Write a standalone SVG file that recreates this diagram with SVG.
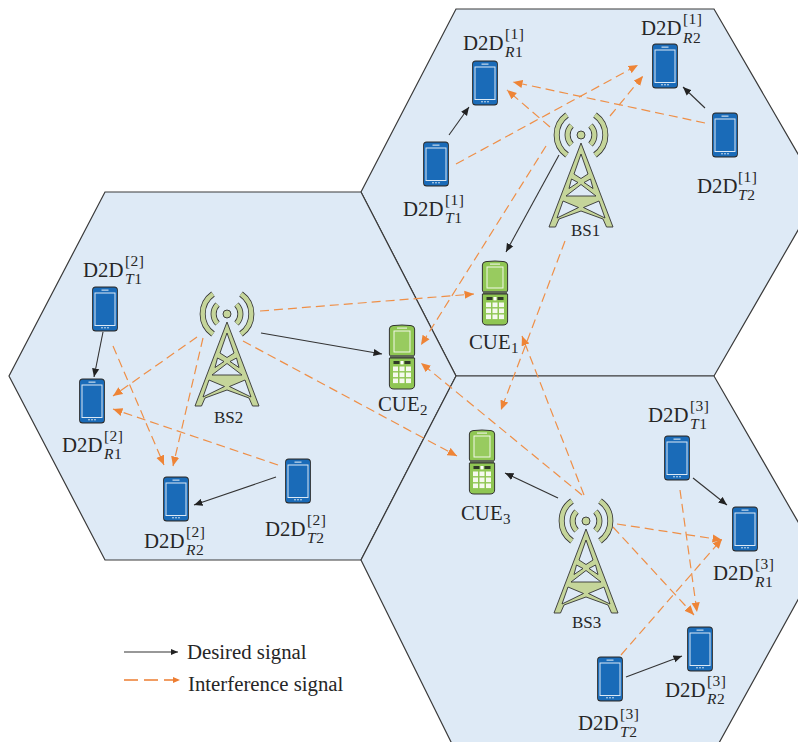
<svg xmlns="http://www.w3.org/2000/svg" xmlns:xlink="http://www.w3.org/1999/xlink" width="798" height="742" viewBox="0 0 798 742">
<style>
.hex{fill:#deeaf6;stroke:#3a3a3a;stroke-width:1.2}
text{font-family:"Liberation Serif","Times New Roman",serif;fill:#262626}
.m{font-size:20.8px}
.s{font-size:15.5px;letter-spacing:.4px}
.i{font-size:15.5px;letter-spacing:.6px}
.i tspan{font-style:italic}
.n{font-size:15px}
.bs{font-size:17px}
.d{fill:none;stroke:#333;stroke-width:1.1;marker-end:url(#ah)}
.o{fill:none;stroke:#ef8f47;stroke-width:1.2;stroke-dasharray:9 5;marker-end:url(#oh)}
.ld{fill:none;stroke:#333;stroke-width:1.1;marker-end:url(#lah)}
.lo{fill:none;stroke:#ed7d31;stroke-width:1.6;stroke-dasharray:14 6;marker-end:url(#loh)}
.ant1{fill:none;stroke:#333;stroke-width:6}
.ant2{fill:none;stroke:#c5d59a;stroke-width:4.4}
</style>
<defs>
<marker id="ah" markerUnits="userSpaceOnUse" markerWidth="10" markerHeight="8" refX="8.500" refY="4" orient="auto"><path d="M0 .4L8.500 4L0 7.600z" fill="#222"/></marker>
<marker id="oh" markerUnits="userSpaceOnUse" markerWidth="11" markerHeight="9" refX="9.500" refY="4.500" orient="auto"><path d="M0 .4L9.500 4.500L0 8.600z" fill="#ee8436"/></marker>
<marker id="lah" markerUnits="userSpaceOnUse" markerWidth="8" markerHeight="7" refX="7" refY="3.500" orient="auto"><path d="M0 .5L7 3.500L0 6.500z" fill="#222"/></marker>
<marker id="loh" markerUnits="userSpaceOnUse" markerWidth="8" markerHeight="7" refX="7" refY="3.500" orient="auto"><path d="M0 .5L7 3.500L0 6.500z" fill="#ed7d31"/></marker>
<symbol id="phone" overflow="visible" viewBox="-13 -23 26 46" width="26" height="46">
<rect x="-12.3" y="-22" width="24.6" height="44" rx="3" fill="#1b5f9e" stroke="#2a2a2a" stroke-width="1.1"/>
<rect x="-12" y="-21" width="24" height="42" rx="2.6" fill="#1a6bb8"/>
<rect x="-10" y="-16" width="20" height="32.5" fill="#1a6bb8" stroke="#dce9f5" stroke-width="1"/>
<rect x="-3.5" y="-19.5" width="7" height="1.3" fill="#b9d3ea"/>
<circle cx="-3" cy="18.8" r=".8" fill="#e4eef7"/><circle cx="0" cy="18.8" r=".8" fill="#e4eef7"/><circle cx="3" cy="18.8" r=".8" fill="#e4eef7"/>
</symbol>
<symbol id="cue" overflow="visible" viewBox="-14 -33 28 66" width="28" height="66">
<path d="M-12.6-28Q-12.6-31 -9-31.400Q0-32.600 9-31.400Q12.600-31 12.600-28V-3Q12.600-.5 10-.5H-10Q-12.600-.5-12.600-3z" fill="#8fc653" stroke="#333" stroke-width="1"/>
<rect x="-5" y="-29.5" width="10" height="1.2" fill="#e8f3dc"/>
<rect x="-8" y="-26" width="16" height="21" fill="#98cb5f" stroke="#f3f8ea" stroke-width="1"/>
<rect x="-12" y="-2" width="24" height="3" fill="#5f6a55"/>
<path d="M-12.600 1H12.600V28Q12.600 32 8 32H-8Q-12.600 32-12.600 28z" fill="#8fc653" stroke="#333" stroke-width="1"/>
<rect x="-8.5" y="4" width="6" height="3" fill="#2f3a28"/><rect x="2.5" y="4" width="6" height="3" fill="#2f3a28"/><rect x="-1.5" y="4" width="3" height="3.4" fill="#fff"/>
<g fill="#f5f9ee">
<rect x="-9" y="9.500" width="5" height="4.600"/><rect x="-2.500" y="9.500" width="5" height="4.600"/><rect x="4" y="9.500" width="5" height="4.600"/>
<rect x="-9" y="15.500" width="5" height="4.600"/><rect x="-2.500" y="15.500" width="5" height="4.600"/><rect x="4" y="15.500" width="5" height="4.600"/>
<rect x="-9" y="21.500" width="5" height="4.600"/><rect x="-2.500" y="21.500" width="5" height="4.600"/><rect x="4" y="21.500" width="5" height="4.600"/>
</g>
</symbol>
<symbol id="tower" overflow="visible" viewBox="-34 -28 68 122" width="68" height="122">
<path class="ant1" d="M-14-20A24.500 24.500 0 0 0-14 20M14-20A24.500 24.500 0 0 1 14 20M-9.500-9.500A13.500 13.500 0 0 0-9.500 9.500M9.500-9.500A13.500 13.500 0 0 1 9.500 9.500"/>
<path class="ant2" d="M-14-20A24.500 24.500 0 0 0-14 20M14-20A24.500 24.500 0 0 1 14 20M-9.500-9.500A13.500 13.500 0 0 0-9.500 9.500M9.500-9.500A13.500 13.500 0 0 1 9.500 9.500"/>
<circle r="4" fill="#c5d59a" stroke="#333" stroke-width=".9"/>
<path fill="#c5d59a" stroke="#333" stroke-width=".9" fill-rule="evenodd" d="M0 8L32 92H25.500L22 84L0 76L-22 84L-25.500 92H-32z
M0 19L7 39L0 43.500L-7 39z
M-9.500 44L-3 47.500L-12 53.500z
M9.500 44L3 47.500L12 53.500z
M0 49.500L15 61H-15z
M-18 66L-2.500 72.500L-24 83z
M18 66L2.500 72.500L24 83z"/>
</symbol>
</defs>
<g id="cells">
<path class="hex" d="M456 9H714L820 192L714 376H456L361 192z"/>
<path class="hex" d="M105 192H361L456 376L361 560H105L9 376z"/>
<path class="hex" d="M456 376H714L820 560L714 752H456L361 560z"/>
</g>
<g id="connectors">
<path class="d" d="M449 135L469 107"/>
<path class="d" d="M705 108L683 87"/>
<path class="d" d="M559 155L506 252"/>
<path class="d" d="M261 333L382 354"/>
<path class="d" d="M103 332L94 377"/>
<path class="d" d="M276 477L194 505"/>
<path class="d" d="M558 498L505 473"/>
<path class="d" d="M693 478L727 505"/>
<path class="d" d="M626 677L682 656"/>
<path class="o" d="M456 164L638 65"/>
<path class="o" d="M550 127L507 90"/>
<path class="o" d="M705 123L513 82"/>
<path class="o" d="M610 116L643 76"/>
<path class="o" d="M546 146L421 345"/>
<path class="o" d="M565 241L501 410"/>
<path class="o" d="M260 311L474 294"/>
<path class="o" d="M197 337L113 396"/>
<path class="o" d="M203 338L173 466"/>
<path class="o" d="M243 341L457 456"/>
<path class="o" d="M113 346L164 465"/>
<path class="o" d="M278 465L113 409"/>
<path class="o" d="M584 495L522 336"/>
<path class="o" d="M582 495L421 363"/>
<path class="o" d="M617 524L722 540"/>
<path class="o" d="M613 527L694 615"/>
<path class="o" d="M680 490L697 612"/>
<path class="o" d="M621 655L722 539"/>
</g>
<g id="bs1"><use xlink:href="#tower" href="#tower" x="547" y="107"/><text class="bs" x="571" y="236">BS1</text></g>
<g id="bs2"><use xlink:href="#tower" href="#tower" x="193" y="286"/><text class="bs" x="214" y="423">BS2</text></g>
<g id="bs3"><use xlink:href="#tower" href="#tower" x="552" y="493"/><text class="bs" x="572" y="628">BS3</text></g>
<g id="cue1"><use xlink:href="#cue" href="#cue" x="481" y="260"/><text class="m" x="469" y="349">CUE</text><text class="n" x="511" y="353">1</text></g>
<g id="cue2"><use xlink:href="#cue" href="#cue" x="388" y="324"/><text class="m" x="378" y="411">CUE</text><text class="n" x="420" y="415">2</text></g>
<g id="cue3"><use xlink:href="#cue" href="#cue" x="468" y="429"/><text class="m" x="461" y="520">CUE</text><text class="n" x="503" y="524">3</text></g>
<g id="d2d-r1-1"><use xlink:href="#phone" href="#phone" x="472" y="60"/><text class="m" x="463" y="50">D2D</text><text class="s" x="505" y="39">[1]</text><text class="i" x="505" y="57"><tspan>R</tspan>1</text></g>
<g id="d2d-r2-1"><use xlink:href="#phone" href="#phone" x="652" y="43"/><text class="m" x="641" y="35">D2D</text><text class="s" x="683" y="24">[1]</text><text class="i" x="683" y="43"><tspan>R</tspan>2</text></g>
<g id="d2d-t1-1"><use xlink:href="#phone" href="#phone" x="423" y="141"/><text class="m" x="403" y="216">D2D</text><text class="s" x="445" y="205">[1]</text><text class="i" x="445" y="223"><tspan>T</tspan>1</text></g>
<g id="d2d-t2-1"><use xlink:href="#phone" href="#phone" x="712" y="112"/><text class="m" x="697" y="193">D2D</text><text class="s" x="738" y="182">[1]</text><text class="i" x="738" y="200"><tspan>T</tspan>2</text></g>
<g id="d2d-t1-2"><use xlink:href="#phone" href="#phone" x="92" y="286"/><text class="m" x="83" y="277">D2D</text><text class="s" x="125" y="266">[2]</text><text class="i" x="125" y="284"><tspan>T</tspan>1</text></g>
<g id="d2d-r1-2"><use xlink:href="#phone" href="#phone" x="79" y="378"/><text class="m" x="62" y="452">D2D</text><text class="s" x="104" y="441">[2]</text><text class="i" x="104" y="459"><tspan>R</tspan>1</text></g>
<g id="d2d-r2-2"><use xlink:href="#phone" href="#phone" x="163" y="476"/><text class="m" x="144" y="548">D2D</text><text class="s" x="186" y="537">[2]</text><text class="i" x="186" y="555"><tspan>R</tspan>2</text></g>
<g id="d2d-t2-2"><use xlink:href="#phone" href="#phone" x="285" y="458"/><text class="m" x="265" y="536">D2D</text><text class="s" x="307" y="525">[2]</text><text class="i" x="307" y="543"><tspan>T</tspan>2</text></g>
<g id="d2d-t1-3"><use xlink:href="#phone" href="#phone" x="664" y="435"/><text class="m" x="648" y="422">D2D</text><text class="s" x="690" y="411">[3]</text><text class="i" x="690" y="429"><tspan>T</tspan>1</text></g>
<g id="d2d-r1-3"><use xlink:href="#phone" href="#phone" x="732" y="506"/><text class="m" x="713" y="580">D2D</text><text class="s" x="755" y="569">[3]</text><text class="i" x="755" y="587"><tspan>R</tspan>1</text></g>
<g id="d2d-r2-3"><use xlink:href="#phone" href="#phone" x="687" y="626"/><text class="m" x="665" y="697">D2D</text><text class="s" x="707" y="686">[3]</text><text class="i" x="707" y="704"><tspan>R</tspan>2</text></g>
<g id="d2d-t2-3"><use xlink:href="#phone" href="#phone" x="597" y="656"/><text class="m" x="578" y="730">D2D</text><text class="s" x="620" y="719">[3]</text><text class="i" x="620" y="737"><tspan>T</tspan>2</text></g>
<g id="legend">
<path class="ld" d="M124 652H178"/>
<text class="m" x="187" y="659">Desired signal</text>
<path class="lo" d="M124 680H180"/>
<text class="m" x="188" y="691">Interference signal</text>
</g>
</svg>
